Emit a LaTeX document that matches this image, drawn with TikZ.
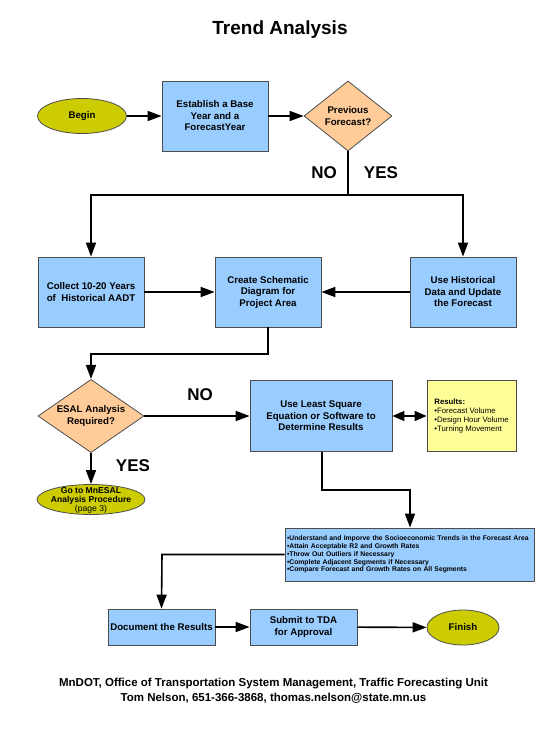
\documentclass[tikz,border=0pt]{standalone}
\usepackage{fontspec}
\setmainfont{Liberation Sans}
\usetikzlibrary{arrows.meta,shapes.geometric}
\definecolor{boxblue}{HTML}{99CCFF}
\definecolor{peach}{HTML}{FFCC99}
\definecolor{olive}{HTML}{CCCC00}
\definecolor{paleyellow}{HTML}{FFFF99}
\definecolor{boxborder}{HTML}{4D4D4D}
\begin{document}
\begin{tikzpicture}[x=1pt,y=-1pt,
  line/.style={line width=1.6pt,draw=black},
  arr/.style={line,-{Triangle[length=14pt,width=10pt]}},
  darr/.style={line,{Triangle[length=12pt,width=10pt]}-{Triangle[length=12pt,width=10pt]}},
  shapebase/.style={draw=boxborder,line width=0.8pt,inner sep=0pt,align=center,
    font=\bfseries\fontsize{9.7}{11.5}\selectfont},
  bluebox/.style={shapebase,rectangle,fill=boxblue},
  decision/.style={shapebase,diamond,fill=peach,aspect=1.3},
  terminal/.style={shapebase,ellipse,fill=olive},
  label/.style={font=\bfseries\fontsize{17}{20}\selectfont,inner sep=0pt}
]
\useasboundingbox (0,0) rectangle (556,730);

\node[font=\bfseries\fontsize{19}{22}\selectfont,inner sep=0pt] (title) at (280,30) {Trend Analysis};

\node[terminal,minimum width=89pt,minimum height=35pt] (begin) at (82,116) {Begin};
\node[bluebox,minimum width=106pt,minimum height=70pt] (est) at (215,116) {Establish a Base\\Year and a\\ForecastYear};
\node[decision,minimum width=88pt,minimum height=70pt] (prev) at (348,116) {Previous\\Forecast?};

\node[label] (no1) at (324,173) {NO};
\node[label] (yes1) at (381,173) {YES};

\node[bluebox,minimum width=106pt,minimum height=70pt] (collect) at (91,292) {Collect 10-20 Years\\of\ \ Historical AADT};
\node[bluebox,minimum width=106pt,minimum height=70pt] (create) at (268,292) {Create Schematic\\Diagram for\\Project Area};
\node[bluebox,minimum width=106pt,minimum height=70pt] (usehist) at (463,292) {Use Historical\\Data and Update\\the Forecast};

\node[decision,minimum width=106pt,minimum height=70pt] (esal) at (91,416) {ESAL Analysis\\Required?};
\node[terminal,minimum width=108pt,minimum height=30pt] (mnesal) at (91,499.5) {};
\node[inner sep=0pt,align=center,font=\bfseries\fontsize{8.6}{9}\selectfont] (mnesaltext) at (91,500)
  {Go to MnESAL\\Analysis Procedure\\{\mdseries(page 3)}};

\node[label] (no2) at (200,395) {NO};
\node[label] (yes2) at (133,466) {YES};

\node[bluebox,minimum width=142pt,minimum height=71pt] (least) at (321,416) {Use Least Square\\Equation or Software to\\Determine Results};
\node[shapebase,rectangle,fill=paleyellow,minimum width=89pt,minimum height=71pt,
  align=left,font=\fontsize{7.8}{9.3}\selectfont] (results) at (471.5,416)
  {\textbf{Results:}\\•Forecast Volume\\•Design Hour Volume\\•Turning Movement};

\node[bluebox,minimum width=249pt,minimum height=53pt,text width=245pt,align=left,
  font=\bfseries\fontsize{6.8}{7.8}\selectfont] (list) at (409.5,554.5)
  {•Understand and Imporve the Socioeconomic Trends in the Forecast Area\\
   •Attain Acceptable R2 and Growth Rates\\
   •Throw Out Outliers if Necessary\\
   •Complete Adjacent Segments if Necessary\\
   •Compare Forecast and Growth Rates on All Segments};

\node[bluebox,minimum width=107pt,minimum height=36pt] (doc) at (161.5,627) {Document the Results};
\node[bluebox,minimum width=107pt,minimum height=36pt] (submit) at (303.5,627) {Submit to TDA\\for Approval};
\node[terminal,minimum width=72pt,minimum height=35pt] (finish) at (463,627.5) {Finish};

\node[font=\bfseries\fontsize{11.5}{15}\selectfont,inner sep=0pt,align=center] (footer) at (273.5,690.5)
  {MnDOT, Office of Transportation System Management, Traffic Forecasting Unit\\
   Tom Nelson, 651-366-3868, thomas.nelson@state.mn.us};

% connectors
\coordinate (j1) at (348,195);
\coordinate (b1) at (268,354);
\coordinate (b2) at (322,490);
\coordinate (b3) at (410,490);
\coordinate (b4) at (162,554.5);

\draw[arr] (begin) -- (est);
\draw[arr] (est) -- (prev);
\draw[line] (prev.south) -- (j1);
\draw[arr] (j1) -| (collect.north);
\draw[arr] (j1) -| (usehist.north);
\draw[arr] (collect) -- (create);
\draw[arr] (usehist) -- (create);
\draw[arr] (create.south) -- (b1) -| (esal.north);
\draw[arr] (esal.east) -- (least.west);
\draw[arr] (esal.south) -- (mnesal.north);
\draw[darr] (least) -- (results);
\draw[arr] (least.south -| b2) -- (b2) -- (b3) -- (b3 |- list.north);
\draw[arr] (list.west) -- (b4) -- (doc.north);
\draw[arr] (doc) -- (submit);
\draw[arr] (submit) -- (finish);
\end{tikzpicture}
\end{document}
